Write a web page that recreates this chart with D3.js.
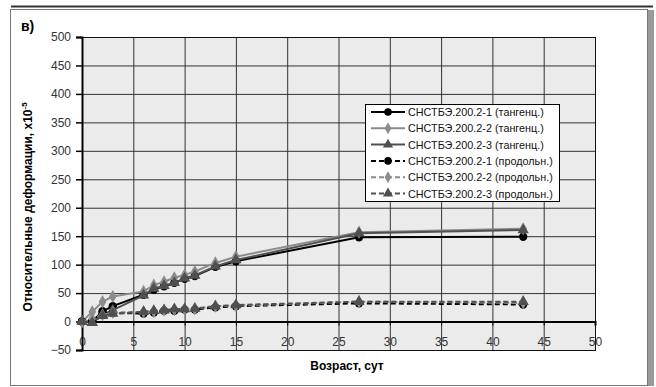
<!DOCTYPE html>
<html>
<head>
<meta charset="utf-8">
<script src="https://cdn.jsdelivr.net/npm/d3@7"></script>
<style>
  body { margin: 0; background: #fff; }
  svg text { font-family: "Liberation Sans", Arial, sans-serif; }
</style>
</head>
<body>
<div class="chart-container"></div>
<script>
// data
const days = [0, 1, 2, 3, 6, 7, 8, 9, 10, 11, 13, 15, 27, 43];
const t1 = [0, 0, 18, 27, 47, 56, 62, 68, 75, 80, 96, 106, 148, 149];
const t2 = [0, 17, 35, 44, 53, 64, 70, 77, 82, 88, 103, 114, 157, 163];
const t3 = [0, -2, 12, 20, 46, 58, 63, 68, 76, 81, 97, 108, 155, 161];
const p1 = [0, 0, 14, 15, 14, 16, 19, 19, 21, 21, 25, 27, 32, 30];
const p2 = [0, 5, 12, 16, 17, 18, 20, 21, 22, 22, 27, 28, 35, 33];
const p3 = [0, -2, 10, 14, 17, 19, 20, 22, 22, 23, 27, 29, 35, 35];
const names = [
    'СНСТБЭ.200.2-1 (тангенц.)',
    'СНСТБЭ.200.2-2 (тангенц.)',
    'СНСТБЭ.200.2-3 (тангенц.)',
    'СНСТБЭ.200.2-1 (продольн.)',
    'СНСТБЭ.200.2-2 (продольн.)',
    'СНСТБЭ.200.2-3 (продольн.)'
];
const xTicks = d3.range(0, 51, 5);
const yTicks = d3.range(-50, 501, 50);

const series = [t1, t2, t3, p1, p2, p3].map((vals, i) => ({
    name: names[i],
    color: ['#000', '#8c8c8c', '#505050'][i % 3],
    symbol: [d3.symbolCircle, d3.symbolDiamond, d3.symbolTriangle][i % 3],
    size: [55, 50, 55][i % 3],
    dashed: i >= 3,
    points: days.map((d, j) => ({ x: d, y: vals[j] }))
}));

const W = 656, H = 387;
const plot = { left: 82, right: 595, top: 37, bottom: 350 };

const svg = d3.select('.chart-container')
    .append('svg')
    .attr('width', W)
    .attr('height', H);

// frame
svg.append('line').attr('x1', 11).attr('x2', 653).attr('y1', 6.5).attr('y2', 6.5)
    .attr('stroke', '#333').attr('stroke-width', 2);
svg.append('rect').attr('x', 648).attr('y', 10).attr('width', 6).attr('height', 376).attr('fill', '#9a9a9a');
svg.append('rect').attr('x', 10.5).attr('y', 9.5).attr('width', 637).attr('height', 376)
    .attr('fill', '#fff').attr('stroke', '#777');

const x = d3.scaleLinear().domain([0, 50]).range([plot.left, plot.right]);
const y = d3.scaleLinear().domain([-50, 500]).range([plot.bottom, plot.top]);

svg.append('rect')
    .attr('x', plot.left).attr('y', plot.top)
    .attr('width', plot.right - plot.left).attr('height', plot.bottom - plot.top)
    .attr('fill', '#ebebeb');

// gridlines
svg.append('g')
    .attr('transform', `translate(0,${plot.bottom})`)
    .call(d3.axisBottom(x).tickValues(xTicks).tickSize(-(plot.bottom - plot.top)).tickFormat(''))
    .call(g => g.select('.domain').remove())
    .call(g => g.selectAll('line').attr('stroke', '#333'));
svg.append('g')
    .attr('transform', `translate(${plot.left},0)`)
    .call(d3.axisLeft(y).tickValues(yTicks).tickSize(-(plot.right - plot.left)).tickFormat(''))
    .call(g => g.select('.domain').remove())
    .call(g => g.selectAll('line').attr('stroke', '#333'));

svg.append('rect')
    .attr('x', plot.left + 0.5).attr('y', plot.top + 0.5)
    .attr('width', plot.right - plot.left).attr('height', plot.bottom - plot.top)
    .attr('fill', 'none').attr('stroke', '#111');

// x axis crossing at y = 0
svg.append('g')
    .attr('transform', `translate(0,${y(0)})`)
    .call(d3.axisBottom(x).tickValues(xTicks).tickSize(4).tickPadding(12))
    .call(g => g.select('.domain').attr('stroke', '#000').attr('stroke-width', 2))
    .call(g => g.selectAll('line').attr('stroke', '#000'))
    .call(g => g.selectAll('text').attr('font-size', 12).attr('fill', '#333'));

svg.append('g')
    .attr('transform', `translate(${plot.left},0)`)
    .call(d3.axisLeft(y).tickValues(yTicks).tickSize(6).tickPadding(5))
    .call(g => g.select('.domain').attr('stroke', '#000').attr('stroke-width', 2))
    .call(g => g.selectAll('line').attr('stroke', '#000').attr('stroke-width', 1.5))
    .call(g => g.selectAll('text').attr('font-size', 12).attr('fill', '#333'));

// lines and markers
const line = d3.line().x(d => x(d.x)).y(d => y(d.y));

series.forEach(s => {
    svg.append('path')
        .datum(s.points)
        .attr('fill', 'none')
        .attr('stroke', s.color)
        .attr('stroke-width', 2)
        .attr('stroke-dasharray', s.dashed ? '5,3' : null)
        .attr('d', line);
    svg.append('g')
        .selectAll('path')
        .data(s.points)
        .enter().append('path')
        .attr('transform', d => `translate(${x(d.x)},${y(d.y)})`)
        .attr('d', d3.symbol().type(s.symbol).size(s.size))
        .attr('fill', s.color);
});

// legend
const legend = svg.append('g').attr('transform', 'translate(365,104)');
legend.append('rect')
    .attr('x', 0.5).attr('y', 0.5).attr('width', 194).attr('height', 97)
    .attr('fill', '#fff').attr('stroke', '#000');
series.forEach((s, i) => {
    const ly = 8 + i * 16.3;
    const row = legend.append('g').attr('transform', `translate(0,${ly})`);
    row.append('line')
        .attr('x1', 6).attr('x2', 40).attr('y1', 0).attr('y2', 0)
        .attr('stroke', s.color).attr('stroke-width', 2)
        .attr('stroke-dasharray', s.dashed ? '5,3' : null);
    row.append('path')
        .attr('transform', 'translate(23,0)')
        .attr('d', d3.symbol().type(s.symbol).size(s.size - 10))
        .attr('fill', s.color);
    row.append('text')
        .attr('x', 43).attr('y', 4)
        .attr('font-size', 10.8)
        .attr('fill', '#111')
        .text(s.name);
});

// titles
svg.append('text')
    .attr('x', 21).attr('y', 31)
    .attr('font-size', 14).attr('font-weight', 'bold')
    .text('в)');

svg.append('text')
    .attr('x', 347).attr('y', 370)
    .attr('text-anchor', 'middle')
    .attr('font-size', 12).attr('font-weight', 'bold')
    .text('Возраст, сут');

const yl = svg.append('text')
    .attr('transform', 'translate(32,207) rotate(-90)')
    .attr('text-anchor', 'middle')
    .attr('font-size', 12).attr('font-weight', 'bold');
yl.append('tspan').text('Относительные деформации, х10');
yl.append('tspan').attr('font-size', 8).attr('dy', -5).text('-5');
</script>
</body>
</html>
